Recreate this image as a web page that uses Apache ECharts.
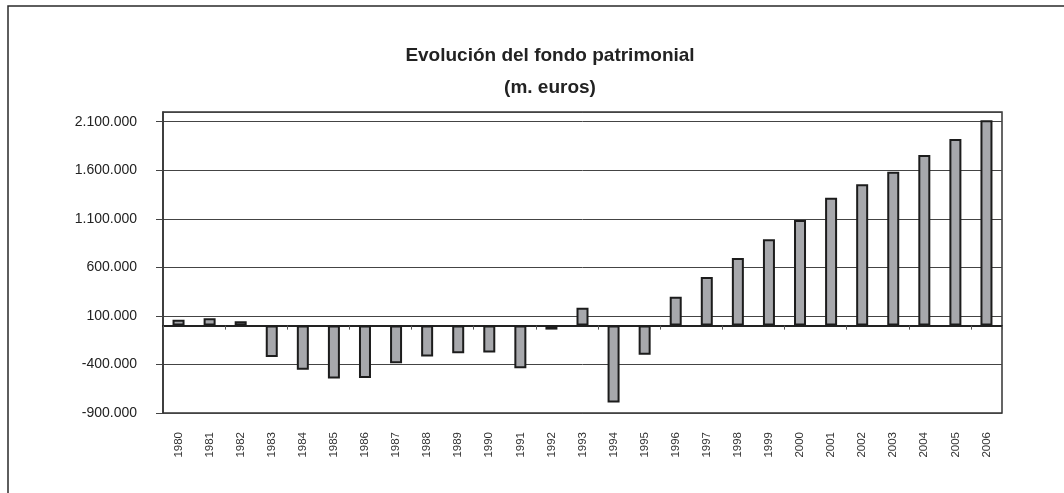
<!DOCTYPE html>
<html>
<head>
<meta charset="utf-8">
<script src="https://cdn.jsdelivr.net/npm/echarts@6/dist/echarts.min.js"></script>
<style>
html,body{margin:0;padding:0;background:#fff;}
#chart{width:1064px;height:493px;}
</style>
</head>
<body>
<div id="chart"></div>
<script>
const titleText = 'Evolución del fondo patrimonial';
const subtitleText = '(m. euros)';
const years = ['1980','1981','1982','1983','1984','1985','1986','1987','1988','1989','1990','1991','1992','1993','1994','1995','1996','1997','1998','1999','2000','2001','2002','2003','2004','2005','2006'];
const fondo = [60000, 75000, 45000, -322000, -455000, -545000, -540000, -387000, -319000, -284000, -277000, -439000, -41000, 185000, -792000, -301000, 298000, 501000, 696000, 889000, 1087000, 1317000, 1455000, 1584000, 1756000, 1921000, 2116000];
const yMin = -900000;
const yMax = 2200000;
const yStep = 500000;

function fmt(v) {
  const neg = v < 0;
  let s = String(Math.round(Math.abs(v)));
  s = s.replace(/\B(?=(\d{3})+(?!\d))/g, '.');
  return (neg ? '-' : '') + s;
}

const chart = echarts.init(document.getElementById('chart'), null, {renderer: 'canvas'});
const FONT = '"Liberation Sans", Arial, sans-serif';

chart.setOption({
  animation: false,
  backgroundColor: '#ffffff',
  title: [
    {
      text: titleText,
      left: 545, top: 41, textAlign: 'center',
      textStyle: {fontFamily: FONT, fontSize: 19, fontWeight: 'bold', color: '#222'}
    },
    {
      text: subtitleText,
      left: 545, top: 73, textAlign: 'center',
      textStyle: {fontFamily: FONT, fontSize: 19, fontWeight: 'bold', color: '#222'}
    }
  ],
  graphic: [
    {
      type: 'polyline',
      shape: {points: [[8, 493], [8, 6], [1064, 6]]},
      style: {stroke: '#2a2a2a', lineWidth: 1.5, fill: null},
      z: 10
    }
  ],
  grid: {
    left: 163, top: 112, right: 62, bottom: 80,
    show: true, borderColor: '#333', borderWidth: 1.5, backgroundColor: 'transparent'
  },
  xAxis: [
    {
      type: 'category',
      data: years,
      position: 'bottom',
      axisLine: {show: false, onZero: false},
      axisTick: {show: false},
      axisLabel: {
        rotate: 90, margin: 19, interval: 0,
        fontFamily: FONT, fontSize: 11.5, color: '#333'
      },
      splitLine: {show: false}
    },
    {
      type: 'category',
      data: years,
      position: 'bottom',
      axisLine: {show: true, onZero: true, lineStyle: {color: '#222', width: 2}},
      axisTick: {show: true, inside: false, length: 4, lineStyle: {color: '#555', width: 1}},
      axisLabel: {show: false},
      splitLine: {show: false}
    }
  ],
  yAxis: {
    type: 'value',
    min: yMin, max: yMax, interval: yStep,
    axisLine: {show: true, lineStyle: {color: '#333', width: 1.5}},
    axisTick: {show: true, length: 7, lineStyle: {color: '#444'}},
    axisLabel: {
      margin: 26, fontFamily: FONT, fontSize: 14, color: '#222',
      showMaxLabel: false,
      formatter: fmt
    },
    splitLine: {show: true, lineStyle: {color: '#444', width: 1}}
  },
  series: [
    {
      type: 'bar',
      xAxisIndex: 0,
      data: fondo,
      barWidth: 12,
      itemStyle: {color: '#a7a8ac', borderColor: '#1c1c1c', borderWidth: 2},
      z: 3
    }
  ]
});
</script>
</body>
</html>
